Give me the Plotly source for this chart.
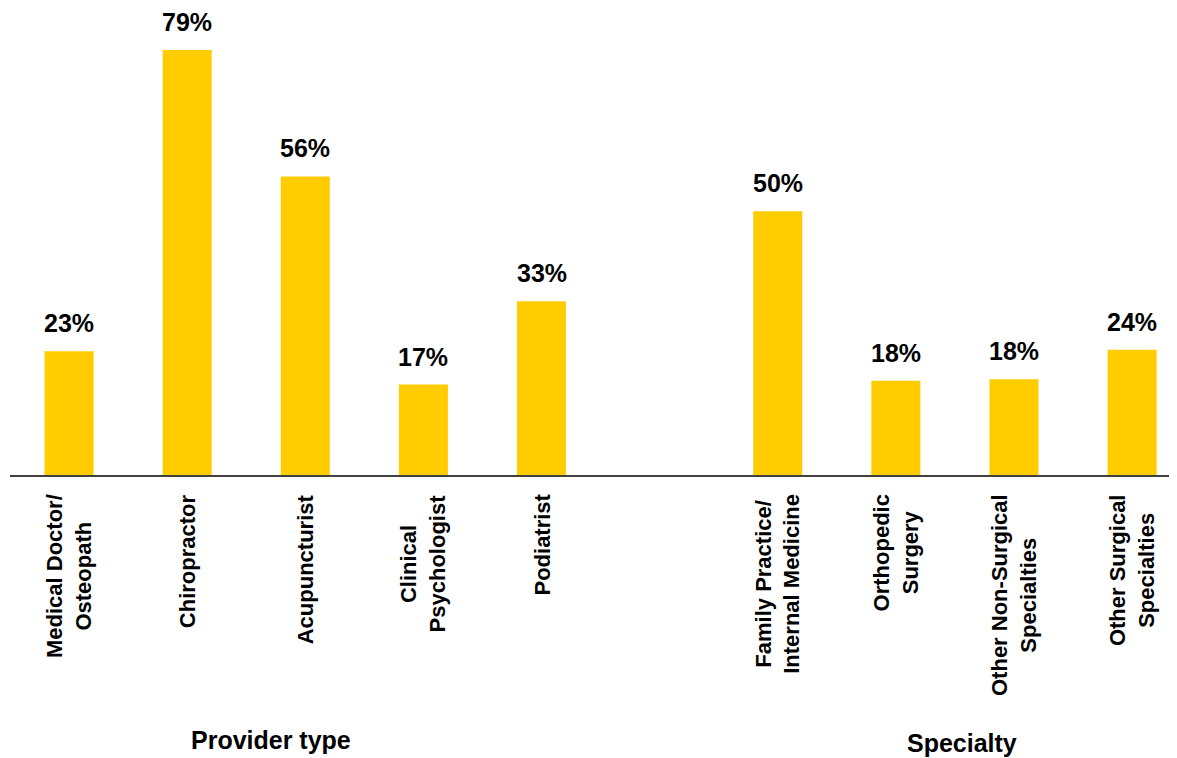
import plotly.graph_objects as go

provider_cats = ["Medical Doctor/<br>Osteopath", "Chiropractor", "Acupuncturist",
                 "Clinical<br>Psychologist", "Podiatrist"]
provider_vals = [23.0, 79.0, 55.5, 16.8, 32.3]
provider_labels = ["23%", "79%", "56%", "17%", "33%"]

specialty_cats = ["Family Practice/<br>Internal Medicine", "Orthopedic<br>Surgery",
                  "Other Non-Surgical<br>Specialties", "Other Surgical<br>Specialties"]
specialty_vals = [49.0, 17.5, 17.8, 23.3]
specialty_labels = ["50%", "18%", "18%", "24%"]

group_titles = ["Provider type", "Specialty"]
spacer = " "

cats = provider_cats + specialty_cats
vals = provider_vals + specialty_vals
labels = provider_labels + specialty_labels
order = provider_cats + [spacer] + specialty_cats

FONT = "Arial, Liberation Sans, sans-serif"
GOLD = "#FFCC00"

fig = go.Figure()
fig.add_trace(go.Bar(x=cats, y=vals, marker=dict(color=GOLD, line=dict(width=0)),
                     width=0.415, hoverinfo="skip"))

annotations = []
for c, v, lab in zip(cats, vals, labels):
    annotations.append(dict(x=c, y=v, xref="x", yref="y", text="<b>%s</b>" % lab,
                            showarrow=False, yanchor="bottom", yshift=12,
                            font=dict(family=FONT, size=25, color="black")))
    annotations.append(dict(x=c, y=0, xref="x", yref="y", text="<b>%s</b>" % c,
                            showarrow=False, yanchor="top", xanchor="center",
                            textangle=-90, align="center", yshift=-17,
                            font=dict(family=FONT, size=22, color="black")))

annotations.append(dict(x=(271 - 10) / 1167, y=(467 - 732) / 467, xref="paper", yref="paper",
                        text="<b>%s</b>" % group_titles[0], showarrow=False,
                        xanchor="center", yanchor="middle",
                        font=dict(family=FONT, size=25, color="black")))
annotations.append(dict(x=(962 - 10) / 1167, y=(467 - 735) / 467, xref="paper", yref="paper",
                        text="<b>%s</b>" % group_titles[1], showarrow=False,
                        xanchor="center", yanchor="middle",
                        font=dict(family=FONT, size=25, color="black")))

fig.update_layout(
    width=1169, height=750,
    margin=dict(l=2, r=0, t=0, b=283),
    plot_bgcolor="white", paper_bgcolor="white",
    showlegend=False,
    annotations=annotations,
    xaxis=dict(type="category", categoryorder="array", categoryarray=order,
               range=[-0.5, 9.38], showticklabels=False, ticks="",
               showgrid=False, zeroline=False,
               showline=True, linecolor="#404040", linewidth=2),
    yaxis=dict(range=[0, 86.8], visible=False, showgrid=False, zeroline=False),
)

fig.write_html("out.html")
